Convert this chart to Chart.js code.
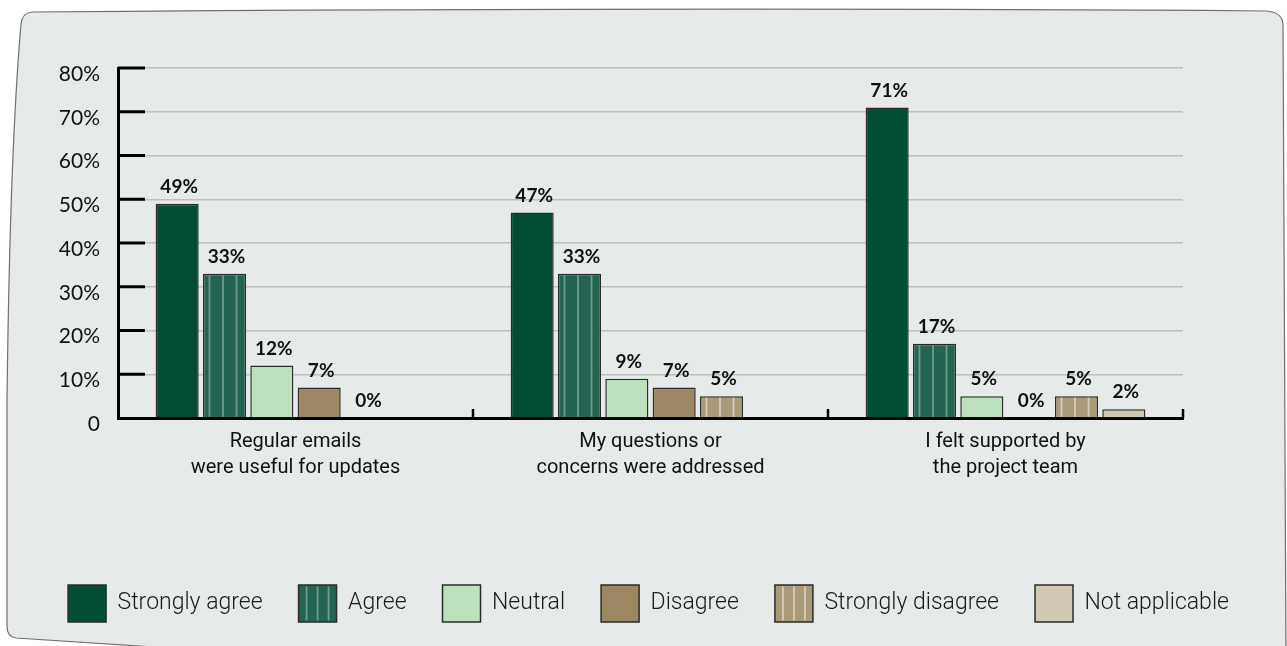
<!DOCTYPE html>
<html><head><meta charset="utf-8">
<script src="https://cdn.jsdelivr.net/npm/chart.js@4.4.0/dist/chart.umd.min.js"></script>
<style>html,body{margin:0;padding:0;background:#fff;overflow:hidden}#wrap{width:1287px;height:646px;position:relative}</style>
</head><body><div id="wrap"><canvas id="c" width="1287" height="646"></canvas></div>
<script>
const categories = [["Regular emails","were useful for updates"],["My questions or","concerns were addressed"],["I felt supported by","the project team"]];
const seriesNames = ["Strongly agree","Agree","Neutral","Disagree","Strongly disagree","Not applicable"];
const stronglyAgree = [49,47,71];
const agree = [33,33,17];
const neutral = [12,9,5];
const disagree = [7,7,0];
const stronglyDisagree = [0,5,5];
const notApplicable = [null,null,2];
const yTicks = [0,10,20,30,40,50,60,70,80];

const fills = ["#014d36","#246452","#bde0bf","#9b8762","#a99a7a","#d1c7b5"];
const stripes = [null,"#6f9b8b",null,null,"#d8cdb8",null];
const seriesValues = [stronglyAgree,agree,neutral,disagree,stronglyDisagree,notApplicable];

const panelPlugin = {
  id:'panel',
  beforeDraw(chart){
    const ctx = chart.ctx;
    ctx.save();
    ctx.beginPath();
    ctx.moveTo(32,12);
    ctx.quadraticCurveTo(700,7,1266,11);
    ctx.quadraticCurveTo(1282,12,1283,24);
    ctx.lineTo(1286,660);
    ctx.lineTo(200,650);
    ctx.quadraticCurveTo(60,641,16,638);
    ctx.quadraticCurveTo(7,637,7,626);
    ctx.lineTo(7,400);
    ctx.quadraticCurveTo(10,150,21,24);
    ctx.quadraticCurveTo(22,13,32,12);
    ctx.closePath();
    ctx.fillStyle = '#e6ebe9';
    ctx.fill();
    ctx.strokeStyle = '#707070';
    ctx.lineWidth = 1.2;
    ctx.stroke();
    ctx.restore();
  }
};

const decoPlugin = {
  id:'deco',
  afterDatasetsDraw(chart){
    const ctx = chart.ctx;
    ctx.save();
    chart.data.datasets.forEach((ds,di)=>{
      if(!stripes[di]) return;
      const meta = chart.getDatasetMeta(di);
      meta.data.forEach((bar,i)=>{
        const v = ds.data[i];
        if(v===null || v<=0) return;
        const w = bar.width, left = bar.x - w/2;
        ctx.fillStyle = stripes[di];
        [6.5,20,33.5].forEach(o=>{
          const sx = left + o*w/43;
          ctx.fillRect(sx-0.9, bar.y+1.5, 1.8, bar.base-bar.y-2);
        });
      });
    });
    ctx.fillStyle = '#111';
    ctx.font = 'bold 19px Lato';
    ctx.textAlign = 'center';
    ctx.textBaseline = 'middle';
    chart.data.datasets.forEach((ds,di)=>{
      const meta = chart.getDatasetMeta(di);
      meta.data.forEach((bar,i)=>{
        const v = ds.data[i];
        if(v===null) return;
        ctx.fillText(v+'%', bar.x+2, bar.y-17);
      });
    });
    ctx.restore();
  },
  afterDraw(chart){
    const ctx = chart.ctx;
    const area = chart.chartArea;
    const ys = chart.scales.y, xs = chart.scales.x;
    ctx.save();
    ctx.strokeStyle = '#000';
    ctx.lineWidth = 3;
    ctx.beginPath();
    ys.ticks.forEach(t=>{
      if(t.value===0) return;
      const y = ys.getPixelForValue(t.value);
      ctx.moveTo(area.left, y);
      ctx.lineTo(area.left+27, y);
    });
    ctx.stroke();
    ctx.lineWidth = 2.5;
    ctx.beginPath();
    const half = (area.right-area.left)/categories.length/2;
    categories.forEach((c,i)=>{
      const x = xs.getPixelForValue(i)+half;
      ctx.moveTo(x, area.bottom-9);
      ctx.lineTo(x, area.bottom);
    });
    ctx.stroke();
    const lg = chart.legend;
    if(lg && lg.legendHitBoxes){
      lg.legendHitBoxes.forEach((hb,i)=>{
        if(!stripes[i]) return;
        ctx.fillStyle = stripes[i];
        [8,19,30].forEach(o=>{
          ctx.fillRect(hb.left+o-0.9, hb.top+1.5, 1.8, 34);
        });
      });
    }
    ctx.restore();
  }
};

const datasets = seriesNames.map((n,i)=>({
  label:n,
  data:seriesValues[i],
  backgroundColor:fills[i],
  borderColor:'#2b2b2b',
  borderWidth:1.5,
  barPercentage:0.91,
  categoryPercentage:0.8
}));

new Chart(document.getElementById('c'),{
  type:'bar',
  data:{labels:categories,datasets},
  options:{
    responsive:false,
    animation:false,
    devicePixelRatio:1,
    layout:{padding:{left:10,right:0,top:68,bottom:14}},
    plugins:{
      tooltip:{enabled:false},
      legend:{
        position:'bottom',
        labels:{
          boxWidth:38, boxHeight:37, padding:36,
          color:'#1a1a1a',
          font:{family:'Roboto',size:23,weight:'300'}
        }
      }
    },
    scales:{
      x:{
        grid:{display:false},
        border:{display:true,color:'#000',width:3},
        ticks:{color:'#111',font:{family:'Roboto',size:20,lineHeight:1.3},padding:3},
        afterFit(s){ s.height = 131; }
      },
      y:{
        min:0,max:80,
        afterBuildTicks(s){ s.ticks = yTicks.map(v=>({value:v})); },
        grid:{color:'#bcc0be',lineWidth:1.5,drawTicks:false},
        border:{display:true,color:'#000',width:3},
        ticks:{color:'#111',font:{family:'Lato',size:21},padding:18,labelOffset:6,
          callback:(v)=> v===0 ? '0' : v+'%'},
        afterFit(s){ s.width = 108; }
      },
      yRight:{
        position:'right',
        display:true,
        grid:{display:false,drawTicks:false},
        border:{display:false},
        ticks:{display:false},
        afterFit(s){ s.width = 104; }
      }
    }
  },
  plugins:[panelPlugin,decoPlugin]
});
</script></body></html>
